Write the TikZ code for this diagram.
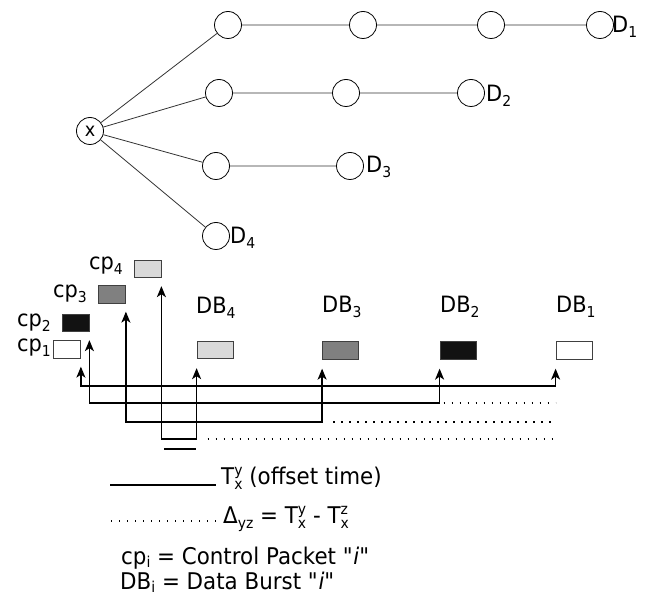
\documentclass[tikz,border=0pt]{standalone}
\usepackage{fontspec}
\setmainfont{DejaVu Sans}[ItalicFont={DejaVu Sans Oblique},FakeStretch=0.93]
\usetikzlibrary{arrows.meta}

% small raised / lowered indices in the text font
\newcommand\lo[1]{\raisebox{-4.5pt}{\fontsize{15}{15}\selectfont #1}}
\newcommand\hi[1]{\raisebox{9.5pt}{\fontsize{15}{15}\selectfont #1}}
\newcommand\lohi[2]{\makebox[0pt][l]{\lo{#1}}\hi{#2}}
% shallower index for the stacked key lines
\newcommand\klo[1]{\raisebox{-3pt}{\fontsize{15}{15}\selectfont #1}}

\begin{document}
\begin{tikzpicture}[x=1pt,y=-1pt,
  every node/.style={font=\fontsize{22.5}{26}\selectfont},
  keytext/.style={font=\fontsize{23}{27}\selectfont},
  vtx/.style={circle,draw=black,line width=0.8pt,minimum size=27pt,inner sep=0pt},
  link/.style={draw=black!80,line width=0.8pt},
  lbl/.style={anchor=base west,inner sep=0pt},
  pkt/.style={draw=black!75,line width=0.8pt,minimum width=27pt,minimum height=17.5pt,inner sep=0pt},
  burst/.style={pkt,minimum width=36pt},
  conn/.style={line width=1.6pt,{Stealth[length=11pt,width=9pt,inset=3pt]}-{Stealth[length=11pt,width=9pt,inset=3pt]},shorten <=8pt,shorten >=9pt},
  gap/.style={line width=1.4pt,dash pattern=on 1.4pt off 6.6pt},
  offset/.style={line width=2.2pt}]
\useasboundingbox (0,0) rectangle (649,596);

% ---- network tree ----
\node[vtx,font=\fontsize{19}{21}\selectfont] (x) at (90,131) {x};
\node[vtx] (a1) at (228,25) {};
\node[vtx] (a2) at (363,25) {};
\node[vtx] (a3) at (491,25) {};
\node[vtx] (a4) at (600,25) {};
\node[vtx] (b1) at (219,93) {};
\node[vtx] (b2) at (346,93) {};
\node[vtx] (b3) at (471,93) {};
\node[vtx] (c1) at (216,166) {};
\node[vtx] (c2) at (350,166) {};
\node[vtx] (d1) at (216,236) {};

\draw[link] (x) -- (a1) -- (a2) -- (a3) -- (a4);
\draw[link] (x) -- (b1) -- (b2) -- (b3);
\draw[link] (x) -- (c1) -- (c2);
\draw[link] (x) -- (d1);

\node[lbl] (l1) at (612,33) {D\lo{1}};
\node[lbl] (l2) at (486,102) {D\lo{2}};
\node[lbl] (l3) at (366,173) {D\lo{3}};
\node[lbl] (l4) at (230,244) {D\lo{4}};

% ---- control packets ----
\node[pkt,fill=white] (cp1) at (67,349.5) {};
\node[pkt,fill=black!93] (cp2) at (75.5,323) {};
\node[pkt,fill=black!50] (cp3) at (112,294.5) {};
\node[pkt,fill=black!15] (cp4) at (147.5,269) {};
\node[lbl] (tcp1) at (17,352) {cp\lo{1}};
\node[lbl] (tcp2) at (17,327) {cp\lo{2}};
\node[lbl] (tcp3) at (53,298) {cp\lo{3}};
\node[lbl] (tcp4) at (89,270) {cp\lo{4}};

% ---- data bursts ----
\node[burst,fill=black!15] (db4) at (215,350) {};
\node[burst,fill=black!50] (db3) at (340.5,350.5) {};
\node[burst,fill=black!93] (db2) at (458,350.5) {};
\node[burst,fill=white] (db1) at (574,350.5) {};
\node[lbl] (tdb4) at (196,314) {DB\lo{4}};
\node[lbl] (tdb3) at (322,313) {DB\lo{3}};
\node[lbl] (tdb2) at (440,313) {DB\lo{2}};
\node[lbl] (tdb1) at (556,313) {DB\lo{1}};

% ---- offset-time links ----
\draw[conn] (cp1.south east) -- (cp1.south east |- 0,386) -| (db1.south west);
\draw[conn] (cp2.south east) -- (cp2.south east |- 0,403) -| (db2.south west);
\draw[conn] (cp3.south east) -- (cp3.south east |- 0,422) -| (db3.south west);
\draw[conn] (cp4.south east) -- (cp4.south east |- 0,439) -| (db4.south west);

% ---- differences to the longest offset ----
\draw[gap] ([xshift=4pt]db2.south west |- 0,403) -- (db1.south west |- 0,403);
\draw[gap] ([xshift=11pt]db3.south west |- 0,422) -- (db1.south west |- 0,422);
\draw[gap] ([xshift=11pt]db4.south west |- 0,439) -- (db1.south west |- 0,439);

% shortest offset time
\coordinate (m0) at (164,449);
\coordinate (m1) at (196,449);
\draw[offset] (m0) -- (m1);

% ---- legend ----
\coordinate (k0) at (110,485);
\coordinate (k1) at (216,485);
\draw[line width=1.6pt] (k0) -- (k1);
\node[lbl,keytext] (key1) at (221,485) {T\lohi{x}{y} (offset time)};

\coordinate (g0) at (111,521);
\coordinate (g1) at (216,521);
\draw[gap] (g0) -- (g1);
\node[lbl,keytext] (key2) at (223,524) {Δ\lo{yz} = T\lohi{x}{y} - T\lohi{x}{z}};

\node[lbl,keytext] (key3) at (121,564) {cp\klo{i} = Control Packet \textquotedbl\textit{i}\textquotedbl};
\node[lbl,keytext] (key4) at (120,589) {DB\klo{i} = Data Burst \textquotedbl\textit{i}\textquotedbl};
\end{tikzpicture}
\end{document}
